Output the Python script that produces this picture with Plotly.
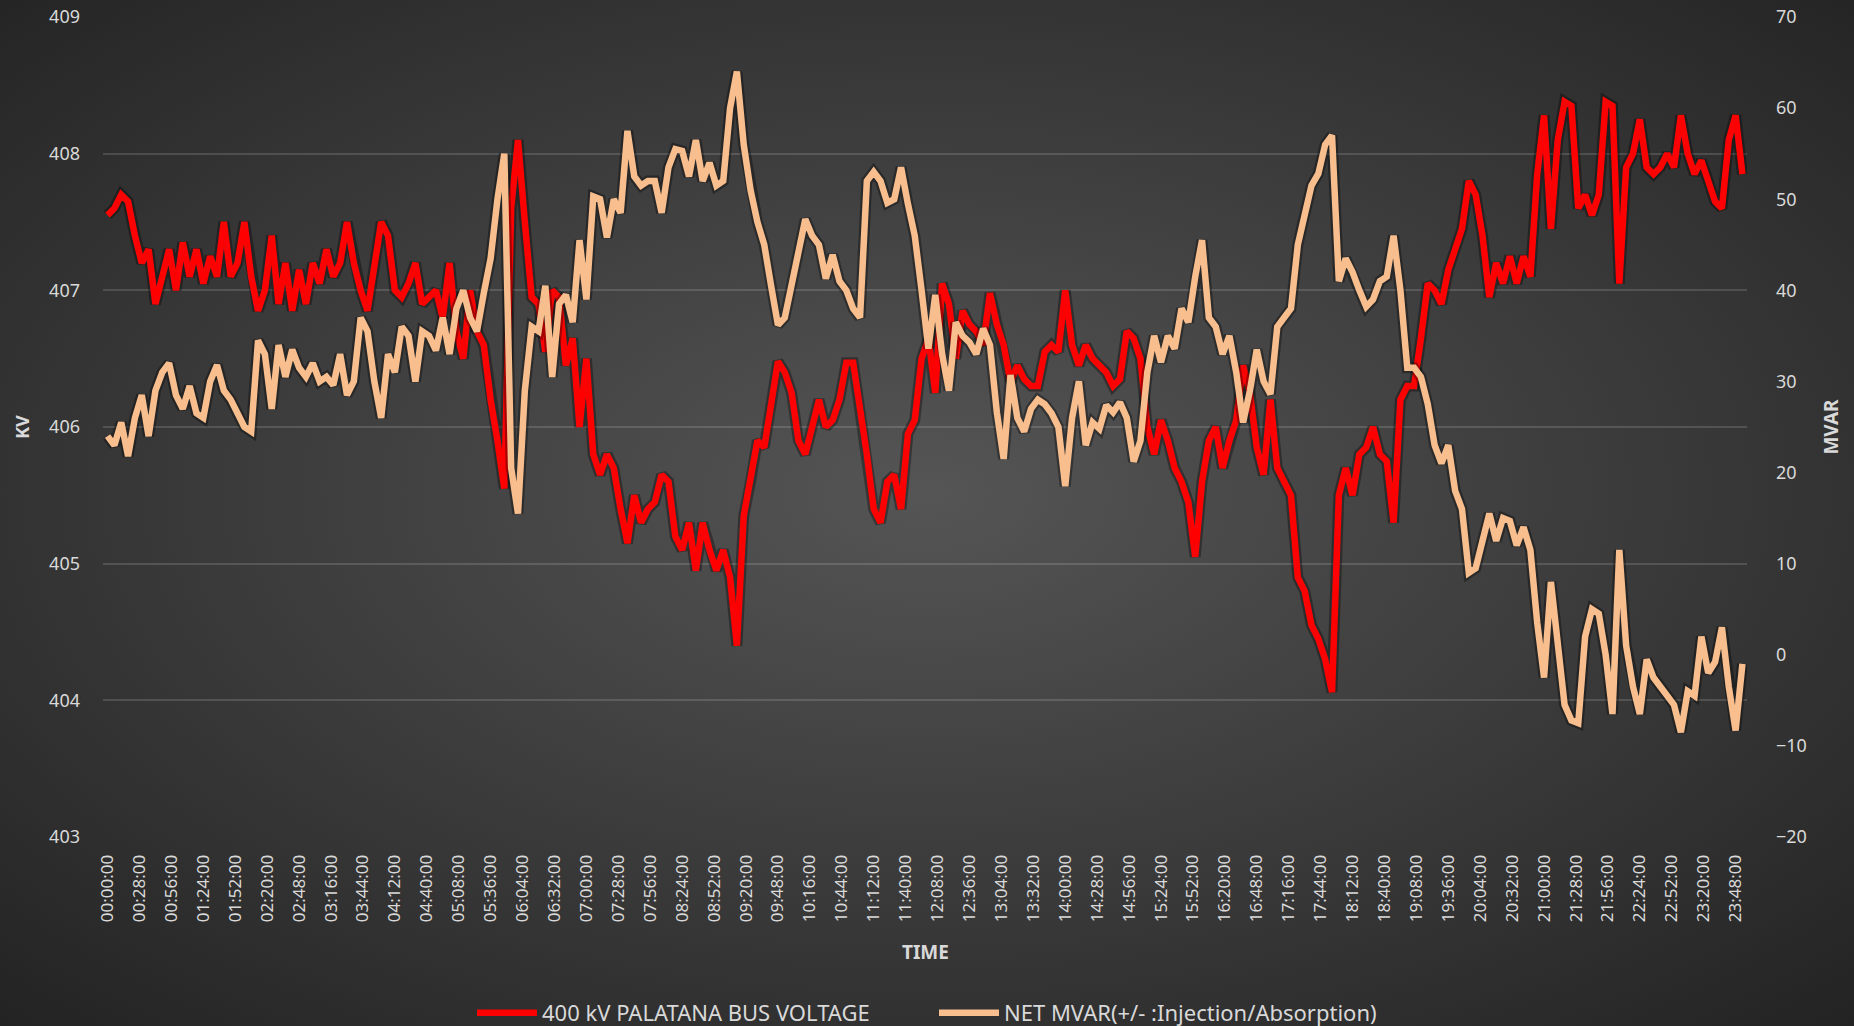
import base64
import plotly.graph_objects as go

# time axis: 6 minute readings over the day (minutes after midnight)
minutes = list(range(0, 1440, 6))

# 400 kV Palatana bus voltage (kV), one row per hour
bus_kv = [
    407.55, 407.6, 407.7, 407.65, 407.4, 407.2, 407.3, 406.9, 407.1, 407.3,
    407.0, 407.35, 407.1, 407.3, 407.05, 407.25, 407.1, 407.5, 407.1, 407.2,
    407.5, 407.1, 406.85, 407.0, 407.4, 406.9, 407.2, 406.85, 407.15, 406.9,
    407.2, 407.05, 407.3, 407.1, 407.2, 407.5, 407.2, 407.0, 406.85, 407.15,
    407.5, 407.4, 407.0, 406.95, 407.05, 407.2, 406.9, 406.95, 407.0, 406.8,
    407.2, 406.7, 406.5, 407.0, 406.7, 406.6, 406.2, 405.9, 405.55, 407.6,
    408.1, 407.5, 406.95, 406.9, 406.55, 407.0, 406.95, 406.45, 406.65, 406.0,
    406.5, 405.8, 405.65, 405.8, 405.7, 405.4, 405.15, 405.5, 405.3, 405.4,
    405.45, 405.65, 405.6, 405.2, 405.1, 405.3, 404.95, 405.3, 405.1, 404.95,
    405.1, 404.9, 404.4, 405.35, 405.6, 405.9, 405.85, 406.2, 406.48, 406.4,
    406.25, 405.9, 405.8, 406.0, 406.2, 406.0, 406.05, 406.2, 406.47, 406.47,
    406.15, 405.8, 405.4, 405.3, 405.6, 405.65, 405.4, 405.95, 406.05, 406.5,
    406.65, 406.25, 407.05, 406.9, 406.5, 406.85, 406.75, 406.7, 406.6, 406.98,
    406.75, 406.6, 406.33, 406.45, 406.35, 406.3, 406.3, 406.55, 406.6, 406.55,
    407.0, 406.6, 406.45, 406.6, 406.5, 406.45, 406.4, 406.3, 406.35, 406.7,
    406.65, 406.5, 406.0, 405.8, 406.05, 405.9, 405.7, 405.6, 405.45, 405.05,
    405.6, 405.9, 406.0, 405.7, 405.9, 406.05, 406.45, 406.25, 405.85, 405.65,
    406.2, 405.7, 405.6, 405.5, 404.9, 404.8, 404.55, 404.45, 404.3, 404.06,
    405.5, 405.7, 405.5, 405.8, 405.85, 406.0, 405.8, 405.75, 405.3, 406.2,
    406.3, 406.3, 406.65, 407.05, 407.0, 406.9, 407.15, 407.3, 407.45, 407.8,
    407.7, 407.4, 406.95, 407.2, 407.05, 407.25, 407.05, 407.25, 407.1, 407.85,
    408.28, 407.45, 408.1, 408.38, 408.35, 407.6, 407.7, 407.55, 407.7, 408.38,
    408.35, 407.05, 407.9, 408.0, 408.25, 407.9, 407.85, 407.9, 408.0, 407.9,
    408.28, 408.0, 407.85, 407.95, 407.8, 407.65, 407.6, 408.1, 408.28, 407.85,
]

# net MVAR (+ injection / - absorption), one row per hour
net_mvar = [
    24, 23, 25.5, 21.8, 26, 28.5, 24, 29, 31, 32,
    28.5, 27, 29.5, 26.5, 26, 30, 31.8, 29, 28, 26.4,
    25, 24.5, 34.5, 33, 27, 34, 30.5, 33.5, 31.5, 30.5,
    32, 30, 30.5, 29.6, 33, 28.5, 30, 37, 35.5, 30,
    26, 33, 31, 36, 35, 30, 35.5, 35, 33.4, 37,
    33, 38, 40, 37, 35.5, 39.7, 43.5, 50, 55, 20.5,
    15.5, 29, 36, 35.5, 40.5, 30.5, 38.5, 39.5, 36.5, 45.5,
    39, 50.3, 50, 45.8, 50, 48.5, 57.5, 52.5, 51.5, 52,
    52, 48.5, 53.5, 55.5, 55.3, 52.5, 56.5, 52, 54, 51.5,
    52, 60, 64, 56, 51, 47.5, 45, 40.5, 36.2, 37,
    40.5, 44, 47.8, 46, 45, 41.3, 43.9, 41, 40, 38,
    37, 52, 53, 52, 49.6, 50, 53.5, 49.5, 46, 40,
    33.6, 39.5, 33, 29, 36.5, 35, 34.3, 33, 35.8, 34,
    26.6, 21.5, 30.7, 26, 24.5, 27, 28, 27.5, 26.5, 25,
    18.5, 26, 30, 23, 25.5, 24.8, 27.4, 26.6, 27.7, 26,
    21.2, 23.5, 31, 35, 32.1, 35, 33.6, 38, 36.5, 41.5,
    45.5, 37, 36, 33, 35, 31, 25.5, 29, 33.5, 30,
    28.6, 36, 37, 38, 45, 48, 51.5, 52.8, 56, 57,
    41, 43.5, 42, 40, 38.2, 39, 41, 41.5, 46, 40,
    31.5, 31.5, 30.5, 27.5, 23, 21, 23, 18, 16, 9,
    9.5, 12.5, 15.5, 12.5, 15, 14.7, 12, 14, 11.5, 3.5,
    -2.5, 8, 1.5, -5.5, -7.2, -7.5, 2, 5, 4.5, 0,
    -6.5, 11.5, 1, -3.5, -6.5, -0.5, -2.5, -3.5, -4.5, -5.5,
    -8.5, -4, -4.5, 2, -2, -0.8, 3, -3.5, -8.3, -1,
]

# x tick labels every 28 minutes
tick_minutes = list(range(0, 1429, 28))
tick_labels = ["%02d:%02d:00" % (m // 60, m % 60) for m in tick_minutes]

W, H = 1854, 1026
ML, MR, MT, MB = 103, 107, 17, 189
pw, ph = W - ML - MR, H - MT - MB
txt = "#d9d9d9"
font = "Noto Sans, Open Sans, sans-serif"

fig = go.Figure()

# soft dark shadow under each line
fig.add_trace(go.Scatter(x=minutes, y=bus_kv, mode="lines", yaxis="y",
                         line=dict(color="rgba(0,0,0,0.35)", width=11),
                         showlegend=False, hoverinfo="skip"))
fig.add_trace(go.Scatter(x=minutes, y=bus_kv, mode="lines", yaxis="y",
                         name="400 kV PALATANA BUS VOLTAGE",
                         line=dict(color="#ff0000", width=6.5)))
fig.add_trace(go.Scatter(x=minutes, y=net_mvar, mode="lines", yaxis="y2",
                         line=dict(color="rgba(0,0,0,0.35)", width=11),
                         showlegend=False, hoverinfo="skip"))
fig.add_trace(go.Scatter(x=minutes, y=net_mvar, mode="lines", yaxis="y2",
                         name="NET MVAR(+/- :Injection/Absorption)",
                         line=dict(color="#f8be8e", width=6.5)))

# radial gradient background as an svg image
svg = ('<svg xmlns="http://www.w3.org/2000/svg" width="%d" height="%d">'
       '<defs><radialGradient id="g" cx="50%%" cy="48%%" r="72%%">'
       '<stop offset="0%%" stop-color="#555555"/>'
       '<stop offset="100%%" stop-color="#232323"/>'
       '</radialGradient></defs>'
       '<rect width="100%%" height="100%%" fill="url(#g)"/></svg>') % (W, H)
src = "data:image/svg+xml;base64," + base64.b64encode(svg.encode()).decode()

fig.update_layout(
    width=W, height=H,
    margin=dict(l=ML, r=MR, t=MT, b=MB, autoexpand=False),
    paper_bgcolor="#2a2a2a",
    plot_bgcolor="rgba(0,0,0,0)",
    font=dict(family=font, color=txt, size=16),
    images=[dict(source=src, xref="paper", yref="paper",
                 x=-ML / pw, y=1 + MT / ph, sizex=W / pw, sizey=H / ph,
                 sizing="stretch", layer="below")],
    xaxis=dict(range=[-4, 1438], tickmode="array", tickvals=tick_minutes,
               ticktext=tick_labels, tickangle=-90, showgrid=False,
               zeroline=False, showline=False, automargin=False,
               ticks="outside", ticklen=10, tickcolor="rgba(0,0,0,0)",
               tickfont=dict(size=17, color=txt)),
    yaxis=dict(range=[403, 409], dtick=1, showgrid=True,
               gridcolor="rgba(255,255,255,0.14)", gridwidth=1.5,
               zeroline=False, showline=False, ticklabelstandoff=22,
               automargin=False, tickfont=dict(size=18, color=txt),
               title=dict(text="<b>KV</b>", font=dict(size=18, color=txt),
                          standoff=14)),
    yaxis2=dict(range=[-20, 70], dtick=10, overlaying="y", side="right",
                showgrid=False, zeroline=False, showline=False,
                ticklabelstandoff=28, automargin=False,
                tickfont=dict(size=18, color=txt),
                title=dict(text="<b>MVAR</b>", font=dict(size=19, color=txt),
                           standoff=18)),
    annotations=[dict(text="<b>TIME</b>", xref="paper", yref="paper",
                      x=0.5, y=-(952 - (H - MB)) / ph, xanchor="center",
                      yanchor="middle", showarrow=False,
                      font=dict(size=19, color=txt))],
    legend=dict(orientation="h", x=0.5 + 9 / pw, xanchor="center",
                y=-(1013 - (H - MB)) / ph, yanchor="middle",
                font=dict(size=22, color=txt),
                bgcolor="rgba(0,0,0,0)", itemwidth=60, entrywidth=387),
    showlegend=True,
)

fig.write_html("out.html", config={"displayModeBar": False},
               post_script="document.body.style.margin='0';")
